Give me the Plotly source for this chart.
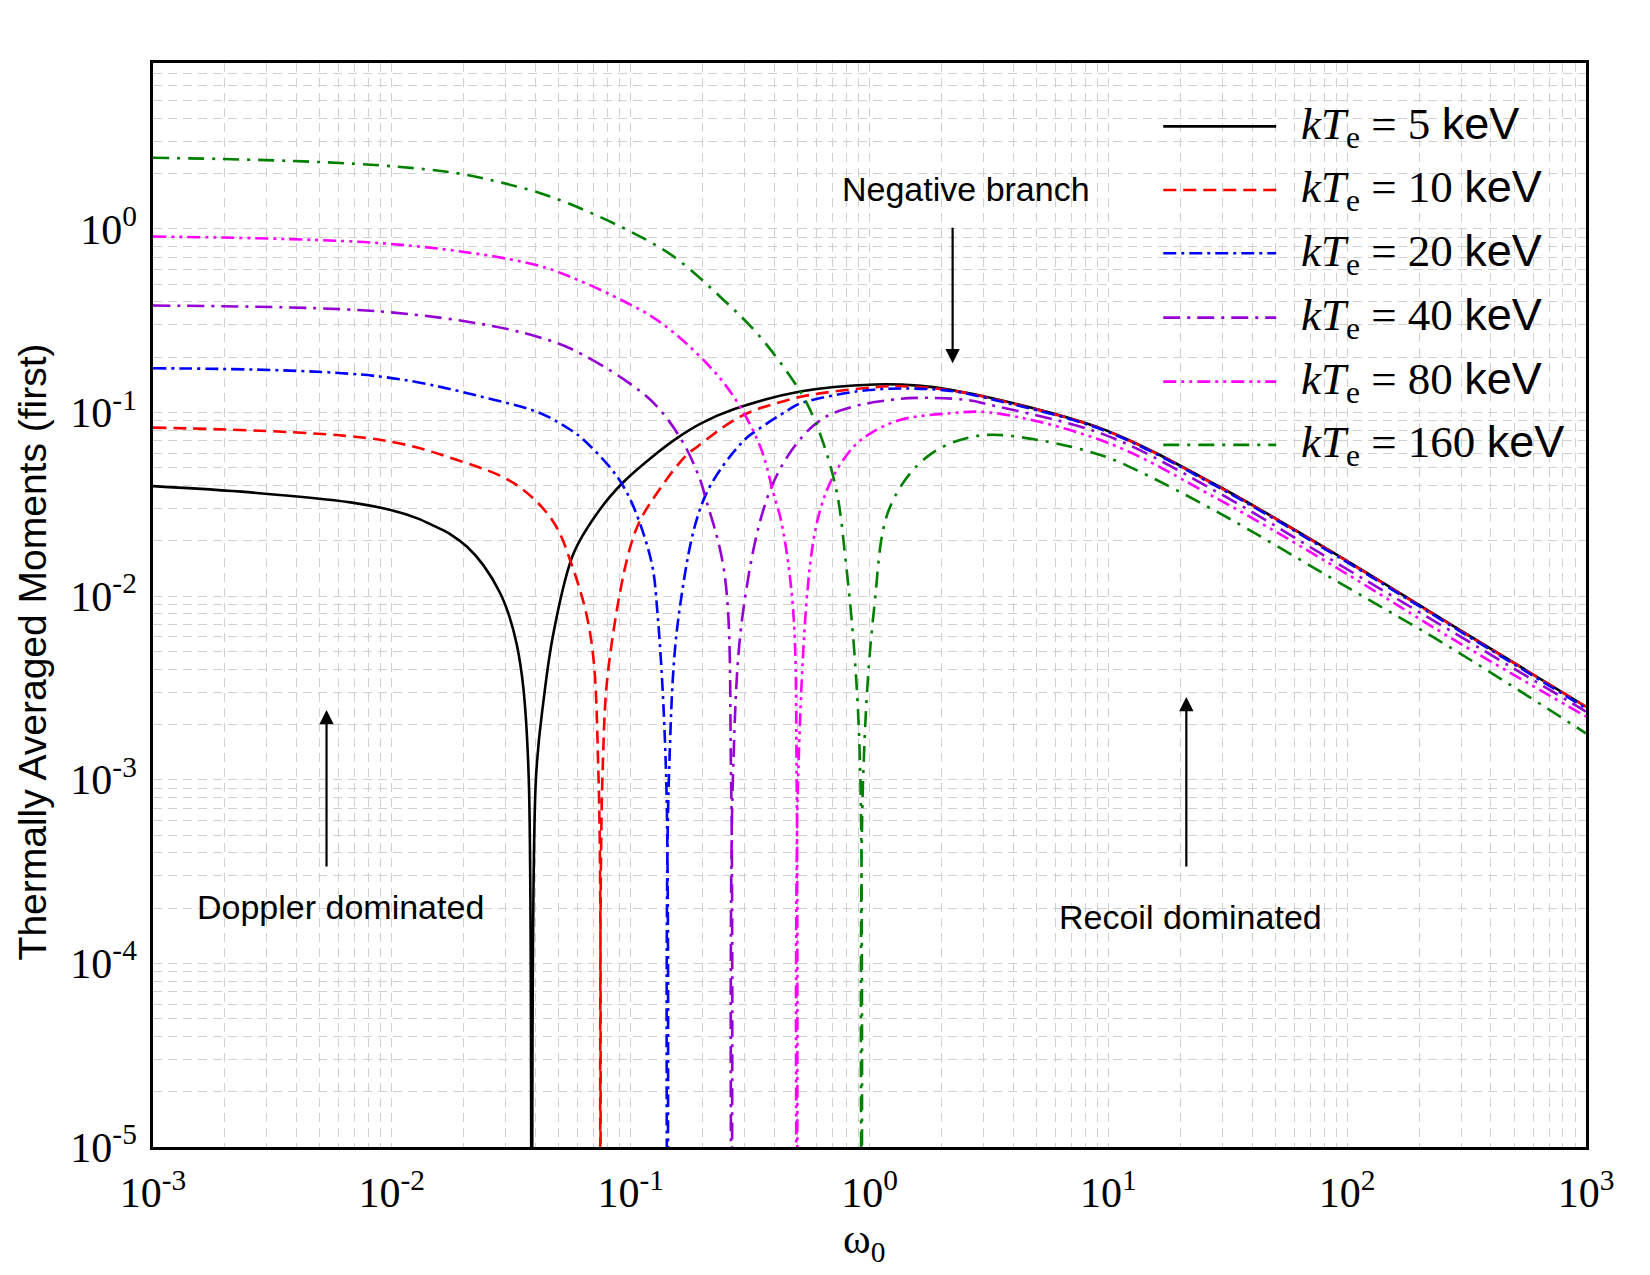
import plotly.graph_objects as go

# ---------------- data ----------------
labels = ["5", "10", "20", "40", "80", "160"]

omega_5 = [0.001, 0.00256, 0.00671, 0.0098, 0.0128, 0.015, 0.0176, 0.0207, 0.0242, 0.0284,
           0.0310, 0.0334, 0.0355, 0.03745, 0.03855, 0.0401, 0.0432, 0.0475, 0.0577, 0.0746,
           0.0933, 0.1208, 0.1563, 0.200, 0.270, 0.513, 1.05, 1.6, 2.18, 3.52, 9.68, 29.2,
           88.5, 267, 1000]
moment_5 = [0.0397, 0.0367, 0.0324, 0.0295, 0.0265, 0.0241, 0.0217, 0.0185, 0.0147, 0.0104,
            0.0078, 0.0054, 0.0032, 0.001, 1e-6, 0.001, 0.00272, 0.00628, 0.0171, 0.0298,
            0.0418, 0.0562, 0.0725, 0.088, 0.104, 0.130, 0.142, 0.140, 0.133, 0.117, 0.0804, 0.0394,
            0.0171, 0.00711, 0.0025]

omega_10 = [0.001, 0.00891, 0.01866, 0.03243, 0.04688, 0.05636, 0.0678, 0.0734, 0.07464,
            0.07612, 0.0815, 0.1042, 0.1288, 0.170, 0.190, 0.288, 0.466, 0.619, 1.04, 1.35,
            2.18, 3.52, 9.68, 29.2, 88.5, 267, 1000]
moment_10 = [0.0827, 0.071, 0.0552, 0.0412, 0.026, 0.0151, 0.00617, 0.001, 1e-6,
             0.001, 0.00448, 0.0222, 0.0363, 0.058, 0.0651, 0.095, 0.118, 0.127, 0.137, 0.139,
             0.132, 0.116, 0.0800, 0.0392, 0.0170, 0.00707, 0.0025]

omega_20 = [0.001, 0.00891, 0.0270, 0.0419, 0.0563, 0.0635, 0.0815, 0.0933, 0.1054, 0.1225,
            0.1291, 0.1409, 0.1426, 0.1445, 0.1603, 0.2046, 0.2965, 0.338, 0.456, 0.513,
            0.843, 1.04, 1.38, 2.18, 3.52, 9.68, 29.2, 88.5, 267, 1000]
moment_20 = [0.174, 0.157, 0.117, 0.099, 0.080, 0.071, 0.0507, 0.0395, 0.0283, 0.0151,
             0.0085, 0.001, 1e-6, 0.001, 0.0085, 0.0348, 0.070, 0.080, 0.103, 0.112,
             0.129, 0.133, 0.135, 0.131, 0.115, 0.0795, 0.0388, 0.0168, 0.0070, 0.00245]

omega_40 = [0.001, 0.00891, 0.0270, 0.0447, 0.0564, 0.0933, 0.1288, 0.1663, 0.1954, 0.2051,
            0.2466, 0.2634, 0.2649, 0.2679, 0.2965, 0.3784, 0.4966, 0.641, 0.843, 1.11,
            1.56, 2.55, 3.2, 9.68, 29.2, 88.5, 267, 1000]
moment_40 = [0.382, 0.355, 0.294, 0.249, 0.222, 0.152, 0.108, 0.068, 0.043, 0.0348,
             0.0135, 0.001, 1e-6, 0.001, 0.0085, 0.036, 0.068, 0.093, 0.107, 0.115,
             0.120, 0.117, 0.110, 0.0755, 0.0363, 0.0154, 0.00655, 0.00235]

omega_80 = [0.001, 0.00891, 0.0270, 0.0447, 0.0564, 0.0796, 0.1288, 0.2018, 0.270, 0.349,
            0.396, 0.4285, 0.4786, 0.4955, 0.4977, 0.5023, 0.565, 0.622, 0.706,
            0.857, 1.01, 1.34, 2.18, 3.2, 9.68, 29.2, 88.5, 267, 1000]
moment_80 = [0.908, 0.836, 0.706, 0.611, 0.545, 0.447, 0.319, 0.193, 0.122, 0.0651,
             0.0363, 0.025, 0.0085, 0.001, 1e-6, 0.001, 0.0151, 0.0295, 0.045,
             0.065, 0.077, 0.091, 0.099, 0.100, 0.0693, 0.0334, 0.0145, 0.0060, 0.00221]

omega_160 = [0.001, 0.00427, 0.0105, 0.01866, 0.027, 0.0447, 0.0904, 0.1514, 0.245, 0.338,
             0.466, 0.547, 0.641, 0.731, 0.7925, 0.869, 0.916, 0.929, 0.940, 1.045, 1.219,
             1.762, 2.88, 5.33, 9.68, 13.4, 29.2, 88.5, 267, 1000]
moment_160 = [2.44, 2.33, 2.18, 2.01, 1.82, 1.52, 1.03, 0.706, 0.41, 0.27,
              0.157, 0.112, 0.068, 0.0363, 0.0161, 0.00448, 0.001, 1e-6, 0.001, 0.0085, 0.0306,
              0.058, 0.0748, 0.070, 0.0575, 0.0479, 0.0283, 0.01225, 0.0053, 0.00179]

x_tick_vals = [1e-3, 1e-2, 1e-1, 1e0, 1e1, 1e2, 1e3]
x_tick_text = ["10<sup>-3</sup>", "10<sup>-2</sup>", "10<sup>-1</sup>", "10<sup>0</sup>",
               "10<sup>1</sup>", "10<sup>2</sup>", "10<sup>3</sup>"]
y_tick_vals = [1e-5, 1e-4, 1e-3, 1e-2, 1e-1, 1e0]
y_tick_text = ["10<sup>-5</sup>", "10<sup>-4</sup>", "10<sup>-3</sup>", "10<sup>-2</sup>",
               "10<sup>-1</sup>", "10<sup>0</sup>"]

# ---------------- styles ----------------
colors = ["black", "#ff0000", "#0000ff", "#9400d3", "#ff00ff", "#008000"]
dashes = ["solid", "13px,7px", "13px,5px,3px,5px", "17px,7px,3px,7px",
          "13px,5px,3px,5px,3px,5px", "16px,8px,3px,8px"]

xs = [omega_5, omega_10, omega_20, omega_40, omega_80, omega_160]
ys = [moment_5, moment_10, moment_20, moment_40, moment_80, moment_160]

fig = go.Figure()
for lab, x, y, c, d in zip(labels, xs, ys, colors, dashes):
    fig.add_trace(go.Scatter(
        x=x, y=y, mode="lines", name=f"kTe = {lab} keV",
        line=dict(color=c, width=2.6, dash=d, shape="spline", smoothing=1.0),
        showlegend=False))

# minor grid positions (axis decoration)
minor_x = [m * 10 ** e for e in range(-3, 3) for m in range(2, 10)]
minor_y = [m * 10 ** e for e in range(-5, 1) for m in range(2, 10)]

grid_col = "#d0d0d0"
grid_dash = "9px,6px"

fig.update_xaxes(
    type="log", range=[-3, 3], showline=True, linecolor="black", linewidth=2.5, mirror=True,
    ticks="", tickmode="array", tickvals=x_tick_vals, ticktext=x_tick_text,
    tickfont=dict(family="Liberation Serif", size=42, color="black"),
    showgrid=True, gridcolor=grid_col, griddash=grid_dash, gridwidth=1.3,
    minor=dict(tickmode="array", tickvals=minor_x, showgrid=True, gridcolor=grid_col,
               griddash=grid_dash, gridwidth=1.3, ticks=""),
    zeroline=False, automargin=False, ticklabelstandoff=7)
fig.update_yaxes(
    type="log", range=[-5, 0.903], showline=True, linecolor="black", linewidth=2.5, mirror=True,
    ticks="", tickmode="array", tickvals=y_tick_vals, ticktext=y_tick_text,
    tickfont=dict(family="Liberation Serif", size=42, color="black"),
    showgrid=True, gridcolor=grid_col, griddash=grid_dash, gridwidth=1.3,
    minor=dict(tickmode="array", tickvals=minor_y, showgrid=True, gridcolor=grid_col,
               griddash=grid_dash, gridwidth=1.3, ticks=""),
    zeroline=False, automargin=False, ticklabelstandoff=5)

# ---------------- manual legend (shapes + text) ----------------
leg_y = [0.9415, 0.8829, 0.8245, 0.7651, 0.7061, 0.6477]
shapes = []
annotations = []
for i, (lab, c, d) in enumerate(zip(labels, colors, dashes)):
    shapes.append(dict(type="line", xref="paper", yref="paper", x0=0.705, x1=0.7838,
                       y0=leg_y[i], y1=leg_y[i], line=dict(color=c, width=2.6, dash=d)))
    annotations.append(dict(
        xref="paper", yref="paper", x=0.800, y=leg_y[i], xanchor="left", yanchor="middle",
        showarrow=False,
        text=f"<i>kT</i><sub>e</sub> = {lab} <span style='font-family:Liberation Sans'>keV</span>",
        font=dict(family="Liberation Serif", size=45, color="black")))

# axis titles as free text (placed where the reference puts them)
annotations.append(dict(
    xref="paper", yref="paper", x=-0.0844, y=0.4563, xanchor="center", yanchor="middle",
    showarrow=False, textangle=-90, text="Thermally Averaged Moments (first)",
    font=dict(family="Liberation Sans", size=39, color="black")))
annotations.append(dict(
    xref="paper", yref="paper", x=0.496, y=-0.0615, xanchor="center", yanchor="top",
    showarrow=False, text="ω<sub>0</sub>",
    font=dict(family="Liberation Serif", size=42, color="black")))

txt_font = dict(family="Liberation Sans", size=34, color="black")
annotations += [
    dict(xref="paper", yref="paper", x=0.567, y=0.884, text="Negative branch",
         showarrow=False, font=txt_font, xanchor="center", yanchor="middle"),
    dict(xref="paper", yref="paper", x=0.558, y=0.723, text="", showarrow=True,
         ax=0, ay=-137, arrowhead=2, arrowsize=1.3, arrowwidth=2.2, arrowcolor="black"),
    dict(xref="paper", yref="paper", x=0.1308, y=0.2214, text="Doppler dominated",
         showarrow=False, font=txt_font, xanchor="center", yanchor="middle"),
    dict(xref="paper", yref="paper", x=0.1211, y=0.4032, text="", showarrow=True,
         ax=0, ay=158, arrowhead=2, arrowsize=1.3, arrowwidth=2.2, arrowcolor="black"),
    dict(xref="paper", yref="paper", x=0.7239, y=0.2126, text="Recoil dominated",
         showarrow=False, font=txt_font, xanchor="center", yanchor="middle"),
    dict(xref="paper", yref="paper", x=0.7211, y=0.4152, text="", showarrow=True,
         ax=0, ay=171, arrowhead=2, arrowsize=1.3, arrowwidth=2.2, arrowcolor="black"),
]

fig.update_layout(
    width=1650, height=1275,
    margin=dict(l=153, r=64, t=63, b=128, autoexpand=False),
    plot_bgcolor="white", paper_bgcolor="white",
    showlegend=False, shapes=shapes, annotations=annotations)

fig.write_html("out.html")
